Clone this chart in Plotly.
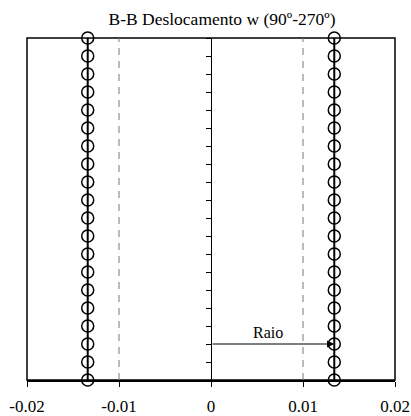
import plotly.graph_objects as go

# Data
nivel = list(range(20))  # measurement positions along the section (bottom -> top)
w_270 = [-0.0134, -0.0134, -0.0134, -0.0134, -0.0134, -0.0134, -0.0134, -0.0134, -0.0134, -0.0134,
         -0.0134, -0.0134, -0.0134, -0.0134, -0.0134, -0.0134, -0.0134, -0.0134, -0.0134, -0.0134]
w_90 = [0.0134, 0.0134, 0.0134, 0.0134, 0.0134, 0.0134, 0.0134, 0.0134, 0.0134, 0.0134,
        0.0134, 0.0134, 0.0134, 0.0134, 0.0134, 0.0134, 0.0134, 0.0134, 0.0134, 0.0134]
ref_lines = [-0.01, 0.01]
x_ticks = [-0.02, -0.01, 0, 0.01, 0.02]
x_tick_labels = ["-0.02", "-0.01", "0", "0.01", "0.02"]
raio_nivel = 2
raio_label = "Raio"
title_text = "B-B Deslocamento w (90º-270º)"

FONT = "Liberation Serif, Times New Roman, serif"

fig = go.Figure()

for xv in ref_lines:
    fig.add_trace(go.Scatter(
        x=[xv, xv], y=[nivel[0], nivel[-1]], mode="lines",
        line=dict(color="#777777", width=1, dash="7px,6px"),
        showlegend=False, hoverinfo="skip", cliponaxis=False))

for series in (w_270, w_90):
    fig.add_trace(go.Scatter(
        x=series, y=nivel, mode="lines+markers",
        line=dict(color="black", width=2),
        marker=dict(symbol="circle-open", size=12, color="black", line=dict(width=1.5)),
        showlegend=False, cliponaxis=False))

# Raio arrow
fig.add_annotation(
    x=w_90[raio_nivel], y=nivel[raio_nivel], ax=0, ay=nivel[raio_nivel],
    xref="x", yref="y", axref="x", ayref="y",
    text="", showarrow=True, arrowhead=2, arrowsize=1.2, arrowwidth=1.2,
    arrowcolor="black", standoff=0, startstandoff=0)
fig.add_annotation(
    x=w_90[raio_nivel] / 2 - 0.0005, y=nivel[raio_nivel], xref="x", yref="y",
    text=raio_label, showarrow=False, yshift=12,
    font=dict(family=FONT, size=16, color="black"))

# Frame
fig.add_shape(type="rect", xref="x domain", yref="y domain", x0=0, x1=1, y0=0, y1=1,
              line=dict(color="black", width=1.5), fillcolor="rgba(0,0,0,0)", layer="below")

fig.update_layout(
    width=411, height=416,
    margin=dict(l=27, r=16, t=38, b=36),
    paper_bgcolor="white", plot_bgcolor="white",
    title=dict(text=title_text, x=0.53, xanchor="center", xref="paper",
               y=0.955, yanchor="middle",
               font=dict(family=FONT, size=17.5, color="black")),
    font=dict(family=FONT, size=17, color="black"),
    xaxis=dict(range=[-0.02, 0.02], tickvals=x_ticks, ticktext=x_tick_labels,
               automargin=False, ticklabelstandoff=5,
               showgrid=False, zeroline=False, showline=True, linecolor="black",
               linewidth=1.5, ticks="outside", ticklen=5, tickcolor="black",
               tickfont=dict(family=FONT, size=17, color="black")),
    yaxis=dict(range=[nivel[0], nivel[-1]], dtick=1, tick0=0, automargin=False,
               anchor="free", position=0.5, side="left",
               showgrid=False, zeroline=False, showline=True, linecolor="black",
               linewidth=1.2, ticks="outside", ticklen=5, tickcolor="black",
               showticklabels=False),
)

fig.write_html("out.html", config={"displayModeBar": False})

# remove the default body margin so the figure sits at the page's top-left corner
with open("out.html", "r", encoding="utf-8") as f:
    html = f.read()
html = html.replace("<head>", "<head><style>html,body{margin:0;padding:0;overflow:hidden;}</style>", 1)
with open("out.html", "w", encoding="utf-8") as f:
    f.write(html)
